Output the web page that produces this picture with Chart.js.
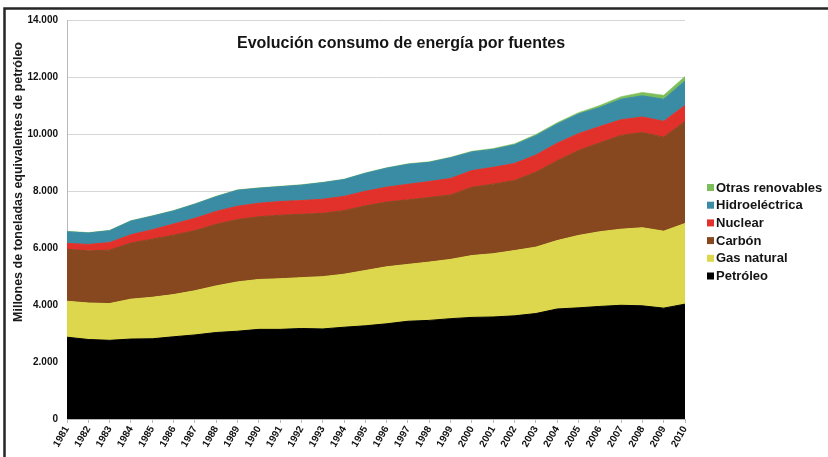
<!DOCTYPE html>
<html>
<head>
<meta charset="utf-8">
<title>Evolución consumo de energía por fuentes</title>
<script src="https://cdn.jsdelivr.net/npm/chart.js@4.4.1/dist/chart.umd.min.js"></script>
<style>
  html, body { margin: 0; padding: 0; background: #ffffff; }
  #wrap { width: 828px; height: 457px; position: relative; }
</style>
</head>
<body>
<div id="wrap"><canvas id="c" width="828" height="457"></canvas></div>
<script>
// Consumo mundial de energía primaria (millones de tep), 1981-2010
const years = ['1981','1982','1983','1984','1985','1986','1987','1988','1989','1990',
               '1991','1992','1993','1994','1995','1996','1997','1998','1999','2000',
               '2001','2002','2003','2004','2005','2006','2007','2008','2009','2010'];

const petroleo = [2870,2790,2760,2805,2815,2885,2950,3035,3080,3145,
                  3145,3175,3160,3220,3270,3340,3430,3460,3520,3565,
                  3580,3620,3700,3860,3900,3950,3990,3970,3890,4030];

const gasNatural = [1260,1280,1290,1400,1455,1480,1550,1635,1730,1750,
                    1775,1785,1835,1860,1940,2000,1995,2045,2080,2170,
                    2220,2290,2330,2400,2540,2620,2670,2740,2700,2830];

const carbon = [1825,1830,1875,1970,2040,2085,2110,2160,2190,2200,
                2230,2225,2220,2230,2270,2270,2265,2265,2260,2395,
                2440,2460,2630,2800,2980,3120,3290,3340,3300,3580];

const nuclear = [205,225,265,290,330,390,430,455,465,475,
                 480,480,495,500,510,525,545,560,580,585,
                 590,595,600,615,590,570,550,545,555,560];

const hidroelectrica = [410,400,415,480,475,460,495,515,560,525,
                        520,540,580,590,630,665,700,675,725,655,
                        630,655,680,675,690,670,720,745,775,860];

const otrasRenovables = [15,15,15,15,15,15,15,15,15,15,
                         15,15,15,15,15,15,20,20,20,25,
                         30,35,40,45,50,70,90,120,140,160];

const seriesNames  = ['Petróleo','Gas natural','Carbón','Nuclear','Hidroeléctrica','Otras renovables'];
const seriesData   = [petroleo, gasNatural, carbon, nuclear, hidroelectrica, otrasRenovables];
const seriesColors = ['#000000','#dcd74c','#874820','#e1312a','#3a8ca4','#7cbf5a'];

const chartTitle = 'Evolución consumo de energía por fuentes';
const yAxisTitle = 'Millones de toneladas equivalentes de petróleo';

const FONT = 'Arial, "Liberation Sans", Helvetica, sans-serif';

function formatThousands(v) {
  return String(v).replace(/\B(?=(\d{3})+(?!\d))/g, '.');
}

const datasets = seriesNames.map((name, i) => ({
  label: name,
  data: seriesData[i],
  backgroundColor: seriesColors[i],
  borderColor: seriesColors[i],
  borderWidth: i === 5 ? 0.6 : 1,
  pointRadius: 0,
  pointHoverRadius: 0,
  tension: 0,
  fill: i === 0 ? 'origin' : '-1'
}));

// Marco, título, título del eje y leyenda dibujados sobre el lienzo
const decor = {
  id: 'decor',
  afterDraw(chart) {
    const ctx = chart.ctx;
    ctx.save();

    // marco exterior
    ctx.strokeStyle = '#262626';
    ctx.lineWidth = 2.5;
    ctx.beginPath();
    ctx.moveTo(4.5, 457);
    ctx.lineTo(4.5, 8.5);
    ctx.lineTo(828, 8.5);
    ctx.stroke();

    // título
    ctx.fillStyle = '#141414';
    ctx.font = 'bold 16px ' + FONT;
    ctx.textAlign = 'center';
    ctx.textBaseline = 'middle';
    ctx.fillText(chartTitle, 401, 44);

    // título del eje vertical
    ctx.save();
    ctx.translate(19, 182);
    ctx.rotate(-Math.PI / 2);
    ctx.font = 'bold 12.5px ' + FONT;
    ctx.fillStyle = '#1a1a1a';
    ctx.fillText(yAxisTitle, 0, 0);
    ctx.restore();

    // leyenda (orden inverso al apilado)
    ctx.font = 'bold 13px ' + FONT;
    ctx.textAlign = 'left';
    ctx.textBaseline = 'middle';
    const x0 = 707, yTop = 187.5, step = 17.7;
    for (let k = 0; k < seriesNames.length; k++) {
      const i = seriesNames.length - 1 - k;
      const y = yTop + k * step;
      ctx.fillStyle = seriesColors[i];
      ctx.fillRect(x0, y - 3.5, 7, 7);
      ctx.fillStyle = '#141414';
      ctx.fillText(seriesNames[i], x0 + 9, y + 0.5);
    }
    ctx.restore();
  }
};

new Chart(document.getElementById('c'), {
  type: 'line',
  data: { labels: years, datasets },
  plugins: [decor],
  options: {
    responsive: false,
    animation: false,
    devicePixelRatio: 1,
    layout: { padding: { top: 20, right: 143, left: 0, bottom: 0 } },
    plugins: {
      legend: { display: false },
      title: { display: false },
      tooltip: { enabled: false },
      filler: { propagate: false }
    },
    scales: {
      x: {
        offset: false,
        afterFit(scale) { scale.height = 38; },
        ticks: {
          autoSkip: false,
          minRotation: 60,
          maxRotation: 60,
          padding: 1,
          color: '#111111',
          font: { family: FONT, size: 10, weight: 'bold' }
        },
        grid: {
          drawOnChartArea: false,
          drawTicks: true,
          tickLength: 4,
          color: '#b8b8b8'
        },
        border: { color: '#b8b8b8', width: 1 }
      },
      y: {
        stacked: true,
        min: 0,
        max: 14000,
        afterFit(scale) { scale.width = 67; },
        ticks: {
          stepSize: 2000,
          padding: 9,
          color: '#111111',
          font: { family: FONT, size: 10, weight: 'bold' },
          callback: (v) => formatThousands(v)
        },
        grid: {
          color: '#d6d6d6',
          drawTicks: false
        },
        border: { color: '#b8b8b8', width: 1 }
      }
    }
  }
});
</script>
</body>
</html>
